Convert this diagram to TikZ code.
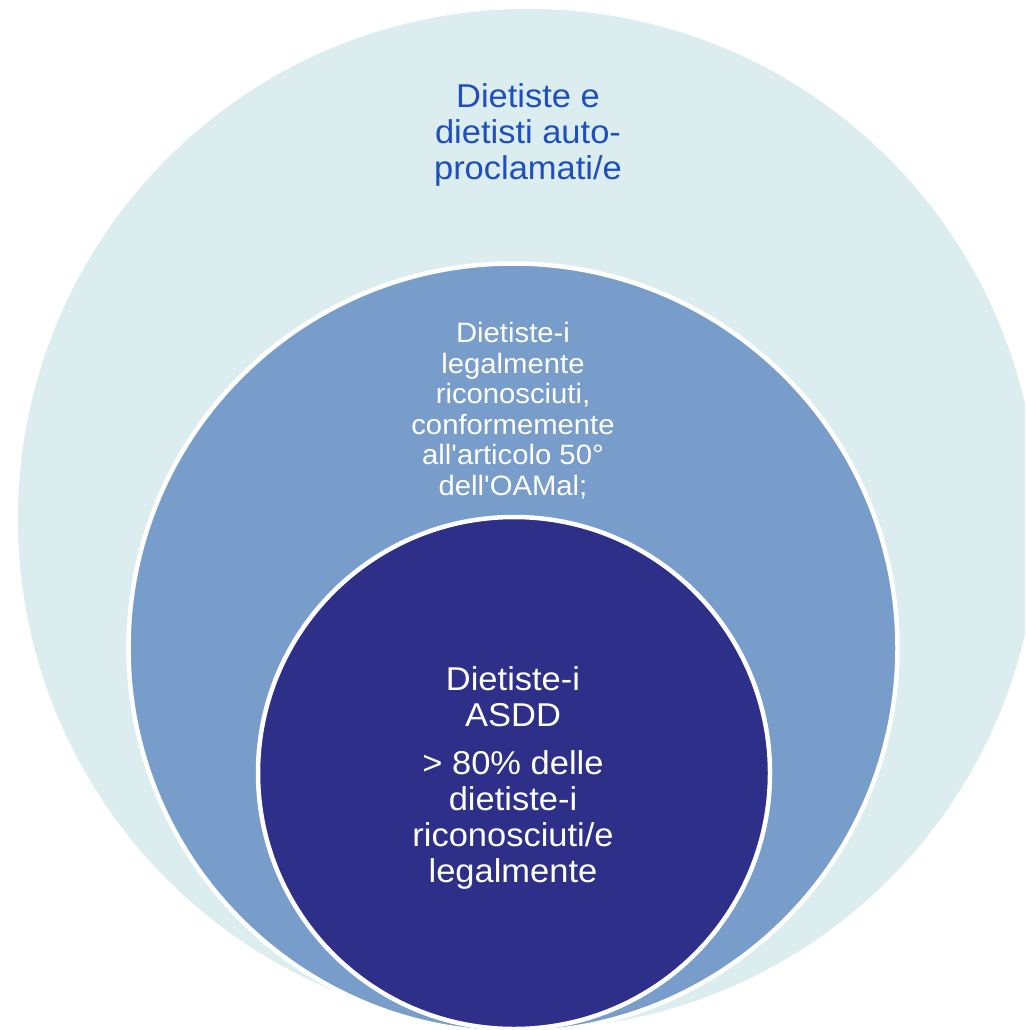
\documentclass[tikz,border=0pt]{standalone}
\usepackage{fontspec}
\setmainfont{Liberation Sans}[Ligatures=TeXOff, FakeStretch=1.045]
\definecolor{paleteal}{HTML}{DBEDEE}
\definecolor{midblue}{HTML}{789DCB}
\definecolor{deepblue}{HTML}{2E2F89}
\definecolor{labelblue}{HTML}{1E4FBA}

\begin{document}
\begin{tikzpicture}[x=1pt, y=-1pt,
    ring/.style={circle, inner sep=0pt, draw=white, line width=4.5pt},
    ringtext/.style={align=center, anchor=north, inner sep=0pt}]
    \useasboundingbox (0,0) rectangle (1025,1030);
    \clip (0,0) rectangle (1025,1030);
    % the three nested rings
    \node [ring, draw=none, fill=paleteal, minimum size=1020pt] (outer) at (528,519) {};
    \node [ring, fill=midblue, minimum size=769pt] (mid) at (513,648) {};
    \node [ring, fill=deepblue, minimum size=512pt] (core) at (514,773) {};
    % labels
    \node [ringtext, text=labelblue, font=\fontsize{33}{36}\selectfont] (outerlbl) at (528,83)
        {Dietiste e\\dietisti auto-\\proclamati/e};
    \node [ringtext, text=white, font=\fontsize{28}{30.6}\selectfont] (midlbl) at (513,322)
        {Dietiste-i\\legalmente\\riconosciuti,\\conformemente\\all'articolo 50°\\dell'OAMal;};
    \node [ringtext, text=white, font=\fontsize{33}{36}\selectfont] (corelbl) at (513,666)
        {Dietiste-i\\ASDD\\[12pt]> 80\% delle\\dietiste-i\\riconosciuti/e\\legalmente};
\end{tikzpicture}
\end{document}
